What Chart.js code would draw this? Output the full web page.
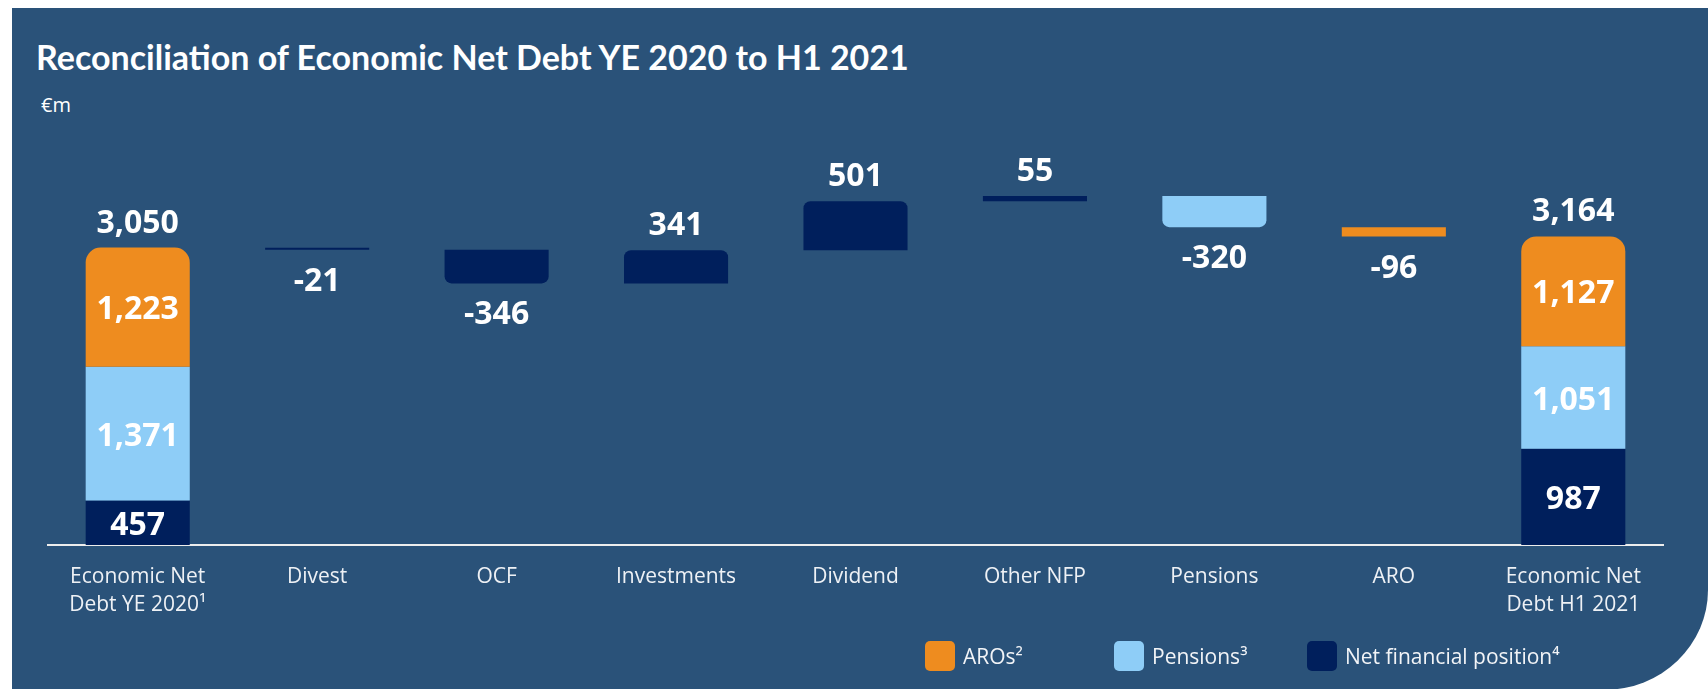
<!DOCTYPE html>
<html>
<head>
<meta charset="utf-8">
<script src="https://cdn.jsdelivr.net/npm/chart.js@4/dist/chart.umd.min.js"></script>
<style>
  html, body { margin:0; padding:0; width:1708px; height:689px; overflow:hidden; background:#ffffff; }
  #panel { position:absolute; left:12px; top:8px; width:1696px; height:682px; background:#2A5279; border-bottom-right-radius:104px 100px; }
  #title { position:absolute; left:36px; top:37px; line-height:40px; font-family:'Lato','Open Sans',sans-serif; font-weight:700; font-size:34px; color:#ffffff; white-space:nowrap; }
  #unit { position:absolute; left:41px; top:92px; line-height:26px; font-family:'Open Sans',sans-serif; font-size:20px; color:#ffffff; }
  #wrap { position:absolute; left:0; top:0; width:1708px; height:689px; }
  .lg { position:absolute; top:641px; height:30px; display:flex; align-items:center; font-family:'Open Sans',sans-serif; font-size:21px; color:#f2f4f7; white-space:nowrap; }
  .lg .sw { width:30px; height:30px; border-radius:5px; margin-right:8px; box-sizing:border-box; }
</style>
</head>
<body>
<div id="panel"></div>
<div id="title">Reconciliation of Economic Net Debt YE 2020 to H1 2021</div>
<div id="unit">€m</div>
<div id="wrap"><canvas id="c" width="1708" height="689"></canvas></div>
<div id="legend"></div>
<script>
// ---- data ----
const categories = [['Economic Net', 'Debt YE 2020¹'], 'Divest', 'OCF', 'Investments', 'Dividend', 'Other NFP', 'Pensions', 'ARO', ['Economic Net', 'Debt H1 2021']];
const seriesNames = ['AROs²', 'Pensions³', 'Net financial position⁴'];
const openingValues = [1223, 1371, 457];   // AROs, Pensions, Net financial position
const closingValues = [1127, 1051, 987];
const openingTotal = 3050;
const closingTotal = 3164;
const movementValues = [-21, -346, 341, 501, 55, -320, -96];
const movementSeries = [2, 2, 2, 2, 2, 1, 0]; // index into seriesNames

// ---- styles ----
const seriesColors = ['#EE8C1F', '#8ECDF7', '#001F5C'];
const legendLefts = [925, 1114, 1307];

// ---- build floating-bar datasets ----
const n = categories.length;
const barData = seriesNames.map(() => new Array(n).fill(null));
const labelInfo = seriesNames.map(() => new Array(n).fill(null));
const stackOrder = [2, 1, 0]; // bottom to top

function addStack(values, idx, total) {
  let base = 0;
  stackOrder.forEach((s, k) => {
    barData[s][idx] = [base, base + values[s]];
    labelInfo[s][idx] = { kind: 'segment', value: values[s], total: k === stackOrder.length - 1 ? total : null };
    base += values[s];
  });
}
addStack(openingValues, 0, openingTotal);
let level = openingTotal;
movementValues.forEach((v, i) => {
  const next = level + v;
  const s = movementSeries[i];
  barData[s][i + 1] = [Math.min(level, next), Math.max(level, next)];
  labelInfo[s][i + 1] = { kind: 'move', value: v };
  level = next;
});
addStack(closingValues, n - 1, closingTotal);

const fmt = v => v.toLocaleString('en-US');

const labelPlugin = {
  id: 'valueLabels',
  afterDatasetsDraw(chart) {
    const ctx = chart.ctx;
    ctx.save();
    ctx.fillStyle = '#ffffff';
    ctx.font = 'bold 32px "Open Sans"';
    ctx.textAlign = 'center';
    ctx.textBaseline = 'alphabetic';
    chart.data.datasets.forEach((ds, s) => {
      const meta = chart.getDatasetMeta(s);
      meta.data.forEach((el, i) => {
        const info = labelInfo[s][i];
        if (!info) return;
        const top = Math.min(el.y, el.base), bottom = Math.max(el.y, el.base);
        if (info.kind === 'segment') {
          ctx.fillText(fmt(info.value), el.x, (top + bottom) / 2 + 12);
          if (info.total != null) ctx.fillText(fmt(info.total), el.x, top - 15);
        } else if (info.value >= 0) {
          ctx.fillText(fmt(info.value), el.x, top - 15);
        } else {
          ctx.fillText(fmt(info.value), el.x, bottom + 41);
        }
      });
    });
    ctx.restore();
  }
};

function radiusFor(ctx) {
  const info = labelInfo[ctx.datasetIndex][ctx.dataIndex];
  if (!info) return 0;
  if (info.kind === 'segment') {
    return ctx.datasetIndex === 0 ? { topLeft: 15, topRight: 15, bottomLeft: 0, bottomRight: 0 } : 0;
  }
  if (Math.abs(info.value) < 200) return 0;
  return info.value > 0
    ? { topLeft: 7, topRight: 7, bottomLeft: 0, bottomRight: 0 }
    : { topLeft: 0, topRight: 0, bottomLeft: 7, bottomRight: 7 };
}

// legend (HTML)
const legendEl = document.getElementById('legend');
seriesNames.forEach((name, s) => {
  const item = document.createElement('div');
  item.className = 'lg';
  item.style.left = legendLefts[s] + 'px';
  const sw = document.createElement('div');
  sw.className = 'sw';
  sw.style.background = seriesColors[s];
  const tx = document.createElement('span');
  tx.textContent = name;
  item.appendChild(sw); item.appendChild(tx);
  legendEl.appendChild(item);
});

function build() {
  new Chart(document.getElementById('c'), {
    type: 'bar',
    data: {
      labels: categories,
      datasets: seriesNames.map((name, s) => ({
        label: name,
        data: barData[s],
        backgroundColor: seriesColors[s],
        borderWidth: 0,
        borderSkipped: false,
        borderRadius: radiusFor,
        categoryPercentage: 1.0,
        barPercentage: 0.58
      }))
    },
    options: {
      responsive: false,
      animation: false,
      devicePixelRatio: 1,
      layout: { padding: { left: 48, right: 45, top: 155, bottom: 44 } },
      plugins: { legend: { display: false }, tooltip: { enabled: false }, title: { display: false } },
      scales: {
        x: {
          stacked: true,
          grid: { display: false, drawTicks: false },
          border: { display: true, color: '#EDEDED', width: 2 },
          ticks: { color: '#EEF1F5', padding: 18, font: { family: 'Open Sans', size: 21, lineHeight: 1.33 }, maxRotation: 0, autoSkip: false },
          afterFit: (scale) => { scale.height = 100; }
        },
        y: {
          stacked: false,
          display: false,
          min: 0,
          max: 4000
        }
      }
    },
    plugins: [labelPlugin]
  });
}

Promise.all([
  document.fonts.load('bold 32px "Open Sans"'),
  document.fonts.load('21px "Open Sans"'),
  document.fonts.load('bold 34px "Lato"')
]).then(build, build);
</script>
</body>
</html>
